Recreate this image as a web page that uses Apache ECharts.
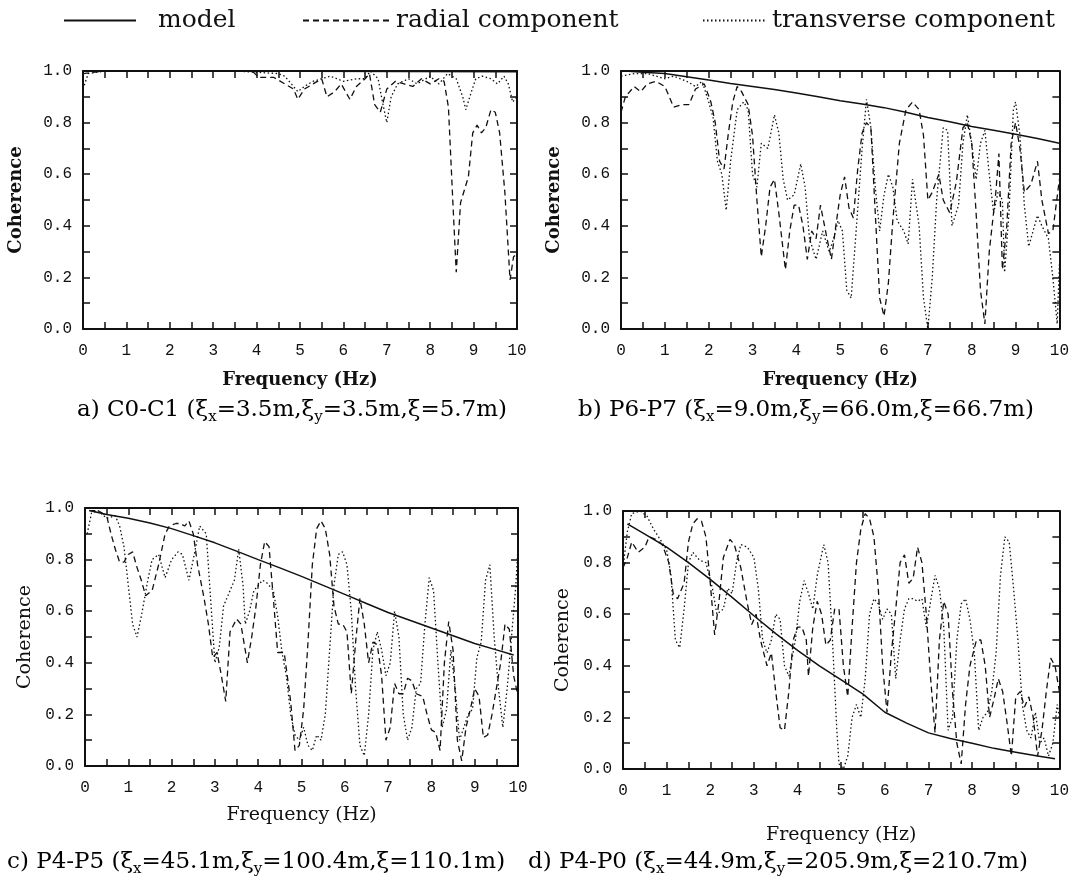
<!DOCTYPE html>
<html>
<head>
<meta charset="utf-8">
<title>Coherence</title>
<script src="https://cdn.jsdelivr.net/npm/echarts@6/dist/echarts.min.js"></script>
<style>
	html, body { margin: 0; padding: 0; background: #fff; }
	#main { width: 1072px; height: 876px; }
</style>
</head>
<body>
<div id="main"></div>
<script>
// 各子图数据，[频率 Hz, 相干值]
const modelA = [[0.1, 1.0], [5, 0.999], [10, 0.997]];
const radialA = [[0, 0.99], [0.5, 1.0], [1.5, 1.0], [2.5, 1.0], [3.5, 1.0], [3.9, 1.0], [4.05, 0.975], [4.4, 0.975], [4.65, 0.95],
	[4.85, 0.93], [4.95, 0.89], [5.1, 0.93], [5.3, 0.95], [5.5, 0.97], [5.62, 0.9], [5.8, 0.92], [5.95, 0.95], [6.15, 0.89],
	[6.3, 0.94], [6.5, 0.97], [6.6, 0.99], [6.72, 0.87], [6.85, 0.84], [7.0, 0.93], [7.2, 0.96], [7.4, 0.95], [7.6, 0.94],
	[7.8, 0.97], [8.0, 0.95], [8.2, 0.97], [8.32, 0.96], [8.42, 0.86], [8.52, 0.5], [8.6, 0.22], [8.7, 0.49], [8.88, 0.59],
	[8.98, 0.76], [9.08, 0.79], [9.18, 0.76], [9.28, 0.78], [9.4, 0.85], [9.5, 0.84], [9.6, 0.76], [9.72, 0.53], [9.84, 0.19],
	[9.92, 0.28], [10, 0.29]];
const transA = [[0, 0.93], [0.12, 0.99], [0.5, 1.0], [2, 1.0], [3.5, 1.0], [4.5, 0.99], [4.65, 0.98], [4.8, 0.95], [4.95, 0.92],
	[5.1, 0.94], [5.3, 0.96], [5.5, 0.97], [5.7, 0.98], [6.0, 0.96], [6.3, 0.97], [6.5, 0.97], [6.62, 1.0], [6.8, 0.97],
	[6.9, 0.88], [7.0, 0.8], [7.1, 0.9], [7.25, 0.95], [7.5, 0.97], [7.7, 0.95], [8.0, 0.98], [8.2, 0.95], [8.4, 0.99],
	[8.6, 0.97], [8.75, 0.9], [8.82, 0.85], [8.95, 0.92], [9.05, 0.97], [9.2, 0.98], [9.4, 0.97], [9.55, 0.95], [9.7, 0.98],
	[9.8, 0.95], [9.9, 0.88], [10, 0.9]];

const modelB = [[0.1, 1.0], [0.5, 0.995], [1, 0.99], [1.5, 0.978], [2, 0.965], [2.5, 0.952], [3, 0.94], [3.5, 0.928],
	[4, 0.915], [4.5, 0.9], [5, 0.885], [5.5, 0.872], [6, 0.858], [6.5, 0.84], [7, 0.82], [7.5, 0.803], [8, 0.785],
	[8.5, 0.77], [9, 0.755], [9.5, 0.738], [10, 0.72]];
const radialB = [[0, 0.84], [0.1, 0.9], [0.3, 0.94], [0.45, 0.92], [0.6, 0.95], [0.8, 0.96], [1.0, 0.94], [1.2, 0.86],
	[1.4, 0.87], [1.55, 0.87], [1.7, 0.93], [1.9, 0.95], [2.05, 0.88], [2.15, 0.8], [2.25, 0.65], [2.35, 0.62], [2.45, 0.76],
	[2.55, 0.88], [2.65, 0.94], [2.75, 0.92], [2.9, 0.87], [3.0, 0.75], [3.1, 0.5], [3.2, 0.28], [3.3, 0.4], [3.4, 0.55],
	[3.5, 0.58], [3.6, 0.45], [3.75, 0.23], [3.85, 0.38], [3.95, 0.48], [4.05, 0.48], [4.15, 0.4], [4.25, 0.27], [4.35, 0.38],
	[4.45, 0.35], [4.55, 0.48], [4.7, 0.35], [4.8, 0.27], [4.9, 0.4], [5.0, 0.52], [5.1, 0.59], [5.2, 0.47], [5.3, 0.43],
	[5.4, 0.62], [5.5, 0.76], [5.6, 0.8], [5.7, 0.78], [5.8, 0.45], [5.9, 0.12], [6.0, 0.05], [6.1, 0.18], [6.2, 0.42],
	[6.35, 0.72], [6.5, 0.85], [6.65, 0.88], [6.8, 0.85], [6.9, 0.75], [7.0, 0.5], [7.1, 0.53], [7.25, 0.6], [7.35, 0.5],
	[7.5, 0.45], [7.65, 0.57], [7.8, 0.78], [7.9, 0.8], [8.0, 0.72], [8.1, 0.45], [8.2, 0.15], [8.3, 0.02], [8.4, 0.3],
	[8.55, 0.53], [8.62, 0.68], [8.7, 0.23], [8.8, 0.4], [8.9, 0.72], [9.0, 0.8], [9.1, 0.7], [9.2, 0.53], [9.35, 0.56],
	[9.5, 0.65], [9.6, 0.5], [9.75, 0.37], [9.85, 0.38], [10, 0.58]];
const transB = [[0, 0.98], [0.3, 0.99], [0.6, 0.99], [1.0, 0.97], [1.2, 0.98], [1.5, 0.96], [1.7, 0.94], [1.85, 0.96],
	[2.0, 0.88], [2.1, 0.82], [2.2, 0.65], [2.3, 0.6], [2.4, 0.46], [2.5, 0.65], [2.65, 0.85], [2.8, 0.88], [2.9, 0.85],
	[3.0, 0.6], [3.1, 0.55], [3.2, 0.72], [3.35, 0.7], [3.5, 0.83], [3.6, 0.76], [3.7, 0.58], [3.8, 0.5], [3.95, 0.52],
	[4.1, 0.64], [4.2, 0.55], [4.3, 0.35], [4.45, 0.27], [4.6, 0.38], [4.75, 0.3], [4.85, 0.35], [4.95, 0.42], [5.05, 0.38],
	[5.15, 0.15], [5.25, 0.12], [5.35, 0.35], [5.5, 0.7], [5.6, 0.89], [5.7, 0.78], [5.8, 0.55], [5.9, 0.38], [6.0, 0.52],
	[6.1, 0.6], [6.2, 0.55], [6.3, 0.42], [6.45, 0.38], [6.55, 0.33], [6.65, 0.58], [6.8, 0.4], [6.9, 0.12], [7.0, 0.0],
	[7.1, 0.2], [7.2, 0.5], [7.35, 0.78], [7.45, 0.77], [7.55, 0.4], [7.7, 0.48], [7.8, 0.72], [7.9, 0.83], [8.0, 0.72],
	[8.1, 0.58], [8.2, 0.72], [8.3, 0.77], [8.4, 0.6], [8.5, 0.45], [8.6, 0.53], [8.7, 0.5], [8.75, 0.22], [8.85, 0.45],
	[8.95, 0.85], [9.0, 0.88], [9.1, 0.75], [9.2, 0.48], [9.3, 0.32], [9.4, 0.38], [9.5, 0.44], [9.6, 0.4], [9.75, 0.35],
	[9.85, 0.2], [9.95, 0.02], [10, 0.25]];

const modelC = [[0.1, 0.99], [0.5, 0.975], [1, 0.96], [1.5, 0.942], [2, 0.92], [2.5, 0.893], [3, 0.865], [3.5, 0.833],
	[4, 0.8], [4.5, 0.768], [5, 0.735], [5.5, 0.7], [6, 0.665], [6.5, 0.63], [7, 0.595], [7.5, 0.565], [8, 0.535],
	[8.5, 0.505], [9, 0.475], [9.5, 0.45], [9.9, 0.43]];
const radialC = [[0.1, 0.99], [0.3, 0.99], [0.5, 0.97], [0.6, 0.9], [0.7, 0.84], [0.8, 0.79], [0.9, 0.79], [1.0, 0.82],
	[1.1, 0.83], [1.2, 0.77], [1.3, 0.72], [1.4, 0.66], [1.55, 0.68], [1.7, 0.78], [1.85, 0.9], [1.95, 0.93], [2.1, 0.94],
	[2.2, 0.94], [2.3, 0.93], [2.4, 0.95], [2.5, 0.9], [2.6, 0.78], [2.75, 0.65], [2.85, 0.55], [2.95, 0.42], [3.05, 0.44],
	[3.15, 0.35], [3.25, 0.25], [3.35, 0.52], [3.5, 0.57], [3.6, 0.55], [3.75, 0.4], [3.85, 0.5], [3.95, 0.62], [4.05, 0.78],
	[4.15, 0.87], [4.25, 0.85], [4.35, 0.65], [4.45, 0.44], [4.6, 0.44], [4.75, 0.25], [4.85, 0.06], [4.95, 0.08],
	[5.05, 0.22], [5.15, 0.48], [5.25, 0.78], [5.35, 0.92], [5.45, 0.95], [5.55, 0.92], [5.65, 0.82], [5.75, 0.62],
	[5.85, 0.55], [5.95, 0.55], [6.05, 0.52], [6.15, 0.28], [6.25, 0.48], [6.35, 0.65], [6.45, 0.55], [6.55, 0.4],
	[6.65, 0.48], [6.75, 0.47], [6.85, 0.35], [6.95, 0.1], [7.05, 0.15], [7.15, 0.32], [7.25, 0.28], [7.35, 0.28],
	[7.45, 0.34], [7.55, 0.33], [7.65, 0.28], [7.8, 0.27], [7.9, 0.2], [8.0, 0.14], [8.1, 0.13], [8.2, 0.06], [8.3, 0.4],
	[8.4, 0.56], [8.5, 0.45], [8.6, 0.1], [8.7, 0.02], [8.8, 0.15], [8.9, 0.22], [9.0, 0.3], [9.1, 0.27], [9.2, 0.11],
	[9.3, 0.12], [9.4, 0.2], [9.5, 0.3], [9.6, 0.4], [9.7, 0.55], [9.8, 0.53], [9.9, 0.35], [10, 0.27]];
const transC = [[0.05, 0.9], [0.15, 0.98], [0.3, 0.99], [0.5, 0.96], [0.7, 0.97], [0.8, 0.93], [0.9, 0.85], [1.0, 0.7],
	[1.1, 0.55], [1.2, 0.5], [1.3, 0.58], [1.45, 0.72], [1.55, 0.8], [1.7, 0.82], [1.85, 0.73], [2.0, 0.8], [2.15, 0.83],
	[2.25, 0.82], [2.4, 0.72], [2.5, 0.8], [2.65, 0.93], [2.8, 0.9], [2.9, 0.65], [3.0, 0.4], [3.1, 0.46], [3.2, 0.62],
	[3.3, 0.66], [3.45, 0.72], [3.55, 0.84], [3.65, 0.7], [3.7, 0.55], [3.8, 0.6], [3.9, 0.68], [4.0, 0.7], [4.1, 0.72],
	[4.2, 0.71], [4.35, 0.68], [4.45, 0.58], [4.55, 0.44], [4.65, 0.35], [4.75, 0.2], [4.85, 0.12], [4.95, 0.1],
	[5.05, 0.15], [5.15, 0.08], [5.25, 0.06], [5.35, 0.12], [5.45, 0.1], [5.55, 0.2], [5.65, 0.45], [5.75, 0.7],
	[5.85, 0.82], [5.95, 0.83], [6.05, 0.78], [6.15, 0.6], [6.25, 0.3], [6.35, 0.08], [6.45, 0.04], [6.55, 0.2],
	[6.65, 0.45], [6.75, 0.52], [6.85, 0.45], [6.95, 0.35], [7.05, 0.4], [7.15, 0.6], [7.25, 0.5], [7.35, 0.2], [7.45, 0.1],
	[7.55, 0.15], [7.65, 0.3], [7.75, 0.32], [7.85, 0.55], [7.95, 0.73], [8.05, 0.68], [8.15, 0.4], [8.25, 0.15],
	[8.35, 0.22], [8.45, 0.45], [8.55, 0.3], [8.65, 0.1], [8.75, 0.15], [8.85, 0.2], [8.95, 0.22], [9.05, 0.42],
	[9.15, 0.48], [9.25, 0.72], [9.35, 0.78], [9.45, 0.5], [9.55, 0.3], [9.65, 0.15], [9.75, 0.3], [9.85, 0.5],
	[9.95, 0.7], [10, 0.85]];

const modelD = [[0.1, 0.95], [0.5, 0.91], [1, 0.86], [1.5, 0.8], [2, 0.735], [2.5, 0.665], [3, 0.594], [3.5, 0.525],
	[4, 0.46], [4.5, 0.4], [5, 0.345], [5.5, 0.29], [6, 0.22], [6.5, 0.178], [7, 0.14], [7.5, 0.118], [8, 0.1],
	[8.5, 0.08], [9, 0.065], [9.5, 0.05], [9.9, 0.04]];
const radialD = [[0, 0.78], [0.1, 0.82], [0.2, 0.88], [0.35, 0.84], [0.5, 0.86], [0.6, 0.9], [0.75, 0.89], [0.9, 0.87],
	[1.05, 0.8], [1.15, 0.68], [1.25, 0.66], [1.4, 0.72], [1.5, 0.88], [1.6, 0.95], [1.7, 0.97], [1.8, 0.96], [1.9, 0.9],
	[2.0, 0.72], [2.1, 0.52], [2.2, 0.65], [2.3, 0.82], [2.45, 0.89], [2.55, 0.87], [2.7, 0.78], [2.85, 0.64], [2.95, 0.56],
	[3.05, 0.6], [3.15, 0.5], [3.3, 0.4], [3.4, 0.45], [3.5, 0.3], [3.6, 0.16], [3.7, 0.15], [3.8, 0.3], [3.9, 0.5],
	[4.0, 0.55], [4.1, 0.55], [4.2, 0.5], [4.25, 0.36], [4.35, 0.55], [4.45, 0.65], [4.55, 0.6], [4.65, 0.48], [4.75, 0.5],
	[4.85, 0.62], [4.95, 0.62], [5.05, 0.4], [5.15, 0.28], [5.25, 0.55], [5.35, 0.8], [5.45, 0.93], [5.55, 0.99],
	[5.65, 0.97], [5.75, 0.9], [5.85, 0.7], [5.95, 0.4], [6.05, 0.22], [6.15, 0.45], [6.25, 0.62], [6.35, 0.8], [6.45, 0.83],
	[6.55, 0.72], [6.65, 0.74], [6.75, 0.86], [6.85, 0.8], [6.95, 0.6], [7.05, 0.35], [7.15, 0.14], [7.25, 0.5],
	[7.35, 0.65], [7.45, 0.6], [7.55, 0.3], [7.65, 0.1], [7.75, 0.02], [7.85, 0.25], [7.95, 0.4], [8.1, 0.5], [8.2, 0.5],
	[8.3, 0.4], [8.4, 0.2], [8.5, 0.27], [8.6, 0.35], [8.7, 0.3], [8.8, 0.18], [8.9, 0.05], [9.0, 0.28], [9.1, 0.3],
	[9.2, 0.24], [9.3, 0.28], [9.4, 0.2], [9.5, 0.05], [9.6, 0.15], [9.7, 0.3], [9.8, 0.43], [9.9, 0.4], [10, 0.3]];
const transD = [[0, 0.78], [0.1, 0.92], [0.2, 0.99], [0.4, 1.0], [0.55, 0.98], [0.7, 0.93], [0.85, 0.89], [1.0, 0.85],
	[1.1, 0.75], [1.2, 0.5], [1.3, 0.47], [1.4, 0.62], [1.5, 0.8], [1.6, 0.84], [1.75, 0.81], [1.9, 0.8], [2.05, 0.7],
	[2.15, 0.6], [2.3, 0.62], [2.4, 0.7], [2.5, 0.68], [2.6, 0.8], [2.7, 0.87], [2.85, 0.86], [3.0, 0.82], [3.1, 0.7],
	[3.2, 0.5], [3.3, 0.45], [3.4, 0.5], [3.5, 0.6], [3.6, 0.58], [3.7, 0.4], [3.8, 0.36], [3.95, 0.5], [4.05, 0.65],
	[4.15, 0.73], [4.25, 0.68], [4.35, 0.62], [4.45, 0.75], [4.6, 0.87], [4.7, 0.8], [4.8, 0.5], [4.9, 0.15], [4.95, 0.02],
	[5.05, 0.0], [5.15, 0.05], [5.25, 0.2], [5.35, 0.25], [5.45, 0.2], [5.55, 0.35], [5.65, 0.6], [5.75, 0.66],
	[5.85, 0.64], [5.95, 0.58], [6.05, 0.62], [6.15, 0.6], [6.25, 0.35], [6.35, 0.5], [6.45, 0.62], [6.55, 0.66],
	[6.65, 0.66], [6.75, 0.65], [6.85, 0.66], [6.95, 0.55], [7.05, 0.65], [7.15, 0.75], [7.25, 0.7], [7.35, 0.55],
	[7.45, 0.15], [7.55, 0.2], [7.65, 0.5], [7.75, 0.64], [7.85, 0.66], [7.95, 0.58], [8.05, 0.45], [8.15, 0.15],
	[8.25, 0.2], [8.35, 0.22], [8.45, 0.3], [8.55, 0.45], [8.65, 0.75], [8.75, 0.9], [8.85, 0.88], [8.95, 0.7],
	[9.05, 0.5], [9.15, 0.25], [9.25, 0.15], [9.35, 0.12], [9.45, 0.22], [9.55, 0.1], [9.65, 0.12], [9.75, 0.05],
	[9.85, 0.1], [9.95, 0.25], [10, 0.2]];

// 子图说明文字（{s|} 为下标）
const captions = [
	'{n|a) C0-C1 (ξ}{s|x}{n|=3.5m,ξ}{s|y}{n|=3.5m,ξ=5.7m)}',
	'{n|b) P6-P7 (ξ}{s|x}{n|=9.0m,ξ}{s|y}{n|=66.0m,ξ=66.7m)}',
	'{n|c) P4-P5 (ξ}{s|x}{n|=45.1m,ξ}{s|y}{n|=100.4m,ξ=110.1m)}',
	'{n|d) P4-P0 (ξ}{s|x}{n|=44.9m,ξ}{s|y}{n|=205.9m,ξ=210.7m)}'
];

const INK = '#111';
const SERIF = 'DejaVu Serif';
const MONO = 'Liberation Mono';

// 四个子图的绘图区位置（像素）
const panels = [
	{ left: 83, top: 71, width: 434, height: 258, bold: true, nameGapX: 42, nameGapY: 58, data: [modelA, radialA, transA] },
	{ left: 621, top: 71, width: 440, height: 258, bold: true, nameGapX: 42, nameGapY: 58, data: [modelB, radialB, transB] },
	{ left: 85, top: 508, width: 433, height: 258, bold: false, nameGapX: 40, nameGapY: 50, data: [modelC, radialC, transC] },
	{ left: 623, top: 511, width: 438, height: 258, bold: false, nameGapX: 57, nameGapY: 50, data: [modelD, radialD, transD] }
];

const lineTypes = [
	{ name: 'model', type: 'solid', width: 1.5 },
	{ name: 'radial component', type: [6, 4], width: 1.3 },
	{ name: 'transverse component', type: [1.5, 2.5], width: 1.3 }
];

function nameStyle(bold) {
	return {
		fontFamily: SERIF,
		fontWeight: bold ? 'bold' : 'normal',
		fontSize: bold ? 18 : 19,
		color: INK
	};
}

const axisLine = { onZero: false, lineStyle: { color: INK, width: 2 } };
const axisTick = { inside: true, length: 7, lineStyle: { color: INK, width: 1.5 } };

const grid = [], xAxis = [], yAxis = [], series = [];
panels.forEach((p, i) => {
	grid.push({ left: p.left, top: p.top, width: p.width, height: p.height });
	// 底部 / 顶部 x 轴
	xAxis.push({
		gridIndex: i, type: 'value', min: 0, max: 10, interval: 0.5, position: 'bottom',
		axisLine, axisTick, splitLine: { show: false },
		axisLabel: {
			margin: 14, fontFamily: MONO, fontSize: 16, color: INK,
			formatter: v => Number.isInteger(v) ? String(v) : ''
		},
		name: 'Frequency (Hz)', nameLocation: 'middle', nameGap: p.nameGapX,
		nameTextStyle: nameStyle(p.bold)
	}, {
		gridIndex: i, type: 'value', min: 0, max: 10, interval: 0.5, position: 'top',
		axisLine, axisTick, splitLine: { show: false }, axisLabel: { show: false }
	});
	// 左 / 右 y 轴
	yAxis.push({
		gridIndex: i, type: 'value', min: 0, max: 1, interval: 0.1, position: 'left',
		axisLine, axisTick, splitLine: { show: false },
		axisLabel: {
			margin: 11, fontFamily: MONO, fontSize: 16, color: INK,
			formatter: v => Math.round(v * 10) % 2 === 0 ? v.toFixed(1) : ''
		},
		name: 'Coherence', nameLocation: 'middle', nameGap: p.nameGapY, nameRotate: 90,
		nameTextStyle: nameStyle(p.bold)
	}, {
		gridIndex: i, type: 'value', min: 0, max: 1, interval: 0.1, position: 'right',
		axisLine, axisTick, splitLine: { show: false }, axisLabel: { show: false }
	});
	p.data.forEach((d, k) => {
		series.push({
			type: 'line',
			name: lineTypes[k].name,
			xAxisIndex: i * 2,
			yAxisIndex: i * 2,
			data: d,
			symbol: 'none',
			silent: true,
			itemStyle: { color: INK },
			lineStyle: { color: INK, width: lineTypes[k].width, type: lineTypes[k].type }
		});
	});
});

// 图例：三个独立图例，方便分别定位
const legendText = { fontFamily: SERIF, fontSize: 25, color: INK };
const legend = [
	{ left: 58, itemWidth: 72, pad: 17 },
	{ left: 297, itemWidth: 86, pad: 2 },
	{ left: 697, itemWidth: 62, pad: 2 }
].map((l, k) => ({
	data: [lineTypes[k].name],
	left: l.left, top: 3,
	itemWidth: l.itemWidth, itemHeight: 12,
	selectedMode: false,
	itemStyle: { opacity: 0 },
	textStyle: Object.assign({ padding: [0, 0, 0, l.pad] }, legendText)
}));

// 子图说明
const capPos = [
	{ x: 292, y: 410, align: 'center' },
	{ x: 806, y: 410, align: 'center' },
	{ x: 7, y: 862, align: 'left' },
	{ x: 528, y: 862, align: 'left' }
];
const graphic = captions.map((t, i) => ({
	type: 'text',
	x: capPos[i].x,
	y: capPos[i].y,
	style: {
		text: t,
		align: capPos[i].align,
		verticalAlign: 'middle',
		rich: {
			n: { fontFamily: SERIF, fontSize: 23, color: INK, lineHeight: 30 },
			s: { fontFamily: SERIF, fontSize: 15, color: INK, lineHeight: 30, verticalAlign: 'bottom' }
		}
	}
}));

const chart = echarts.init(document.getElementById('main'));
chart.setOption({
	animation: false,
	backgroundColor: '#fff',
	legend,
	grid,
	xAxis,
	yAxis,
	series,
	graphic
});
</script>
</body>
</html>
